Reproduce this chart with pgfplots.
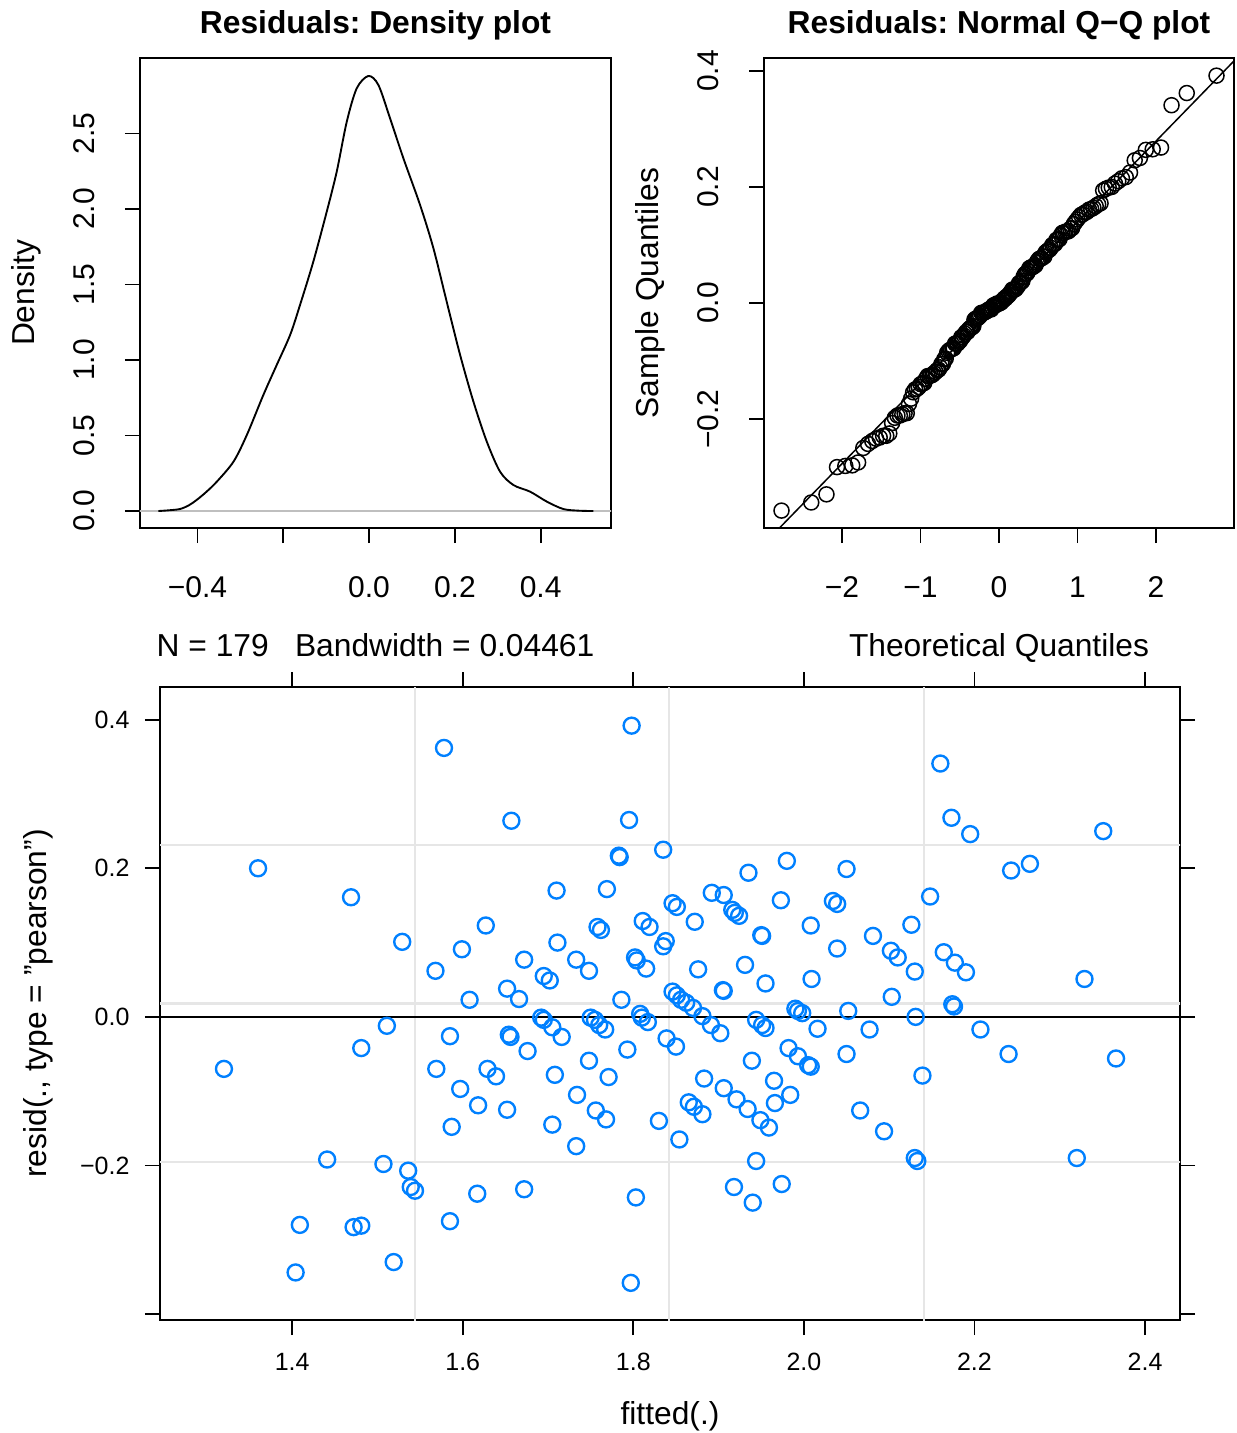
\documentclass[border=0pt]{standalone}
\usepackage{fontspec}
\setmainfont{Liberation Sans}
\usepackage{pgfplots}
\usepackage{pgfplotstable}
\pgfplotsset{compat=1.18}
\definecolor{latblue}{HTML}{0080FF}
\definecolor{refgrey}{HTML}{E6E6E6}
\frenchspacing

% residuals against fitted values
\pgfplotstableread{
fit res
1.578 0.362
1.657 0.264
1.360 0.200
1.469 0.161
1.529 0.101
1.627 0.123
1.599 0.091
1.568 0.062
1.608 0.023
1.652 0.038
1.798 0.392
1.795 0.265
1.835 0.225
1.783 0.217
1.784 0.215
1.710 0.170
1.769 0.172
1.846 0.153
1.851 0.148
1.872 0.128
1.811 0.129
1.819 0.121
1.758 0.121
1.762 0.117
1.892 0.167
1.906 0.164
1.935 0.194
1.980 0.210
2.050 0.199
1.916 0.144
1.919 0.140
1.924 0.136
1.973 0.157
2.034 0.156
2.039 0.152
2.008 0.123
1.950 0.110
1.951 0.109
2.039 0.092
2.009 0.051
1.955 0.045
1.905 0.036
1.906 0.035
1.931 0.070
1.876 0.064
1.838 0.102
1.835 0.095
1.802 0.080
1.804 0.076
1.815 0.065
1.711 0.100
1.733 0.077
1.748 0.062
1.672 0.077
1.695 0.055
1.702 0.049
1.666 0.024
1.786 0.023
1.846 0.034
1.851 0.029
1.856 0.023
1.862 0.019
1.870 0.012
1.881 0.001
1.944 -0.004
1.990 0.011
1.993 0.008
1.998 0.005
2.052 0.008
1.692 -0.001
1.695 -0.004
1.705 -0.014
1.716 -0.027
1.750 -0.001
1.755 -0.004
1.760 -0.011
1.767 -0.017
1.808 0.004
1.810 -0.001
1.817 -0.007
1.891 -0.011
1.902 -0.022
1.951 -0.011
1.955 -0.015
2.016 -0.016
2.050 -0.050
1.654 -0.024
1.656 -0.027
1.676 -0.046
1.629 -0.070
1.639 -0.080
1.652 -0.125
1.708 -0.078
1.748 -0.059
1.793 -0.044
1.771 -0.081
1.734 -0.105
1.756 -0.126
1.768 -0.138
1.705 -0.145
1.733 -0.174
1.830 -0.140
1.839 -0.029
1.850 -0.040
1.854 -0.165
1.883 -0.083
1.865 -0.115
1.871 -0.121
1.881 -0.131
1.906 -0.096
1.921 -0.111
1.934 -0.124
1.949 -0.139
1.959 -0.149
1.939 -0.059
1.982 -0.042
1.993 -0.053
2.005 -0.065
2.008 -0.067
1.965 -0.086
1.966 -0.116
1.984 -0.105
1.944 -0.194
1.918 -0.229
1.940 -0.250
1.974 -0.225
1.672 -0.232
1.803 -0.243
1.797 -0.358
1.320 -0.070
1.481 -0.042
1.511 -0.012
1.585 -0.026
1.569 -0.070
1.597 -0.097
1.618 -0.119
1.587 -0.148
1.441 -0.192
1.507 -0.198
1.536 -0.207
1.539 -0.229
1.544 -0.234
1.617 -0.238
1.585 -0.275
1.409 -0.280
1.472 -0.283
1.481 -0.281
1.519 -0.330
1.404 -0.344
2.160 0.341
2.173 0.268
2.195 0.246
2.351 0.250
2.243 0.197
2.265 0.206
2.148 0.162
2.126 0.124
2.081 0.109
2.102 0.089
2.110 0.080
2.130 0.061
2.164 0.087
2.177 0.073
2.190 0.060
2.329 0.051
2.103 0.027
2.174 0.017
2.176 0.014
2.131 0.000
2.077 -0.017
2.207 -0.017
2.240 -0.050
2.366 -0.056
2.139 -0.079
2.066 -0.126
2.094 -0.154
2.130 -0.190
2.133 -0.194
2.320 -0.190
}\residtab

% normal quantiles against sorted residuals
\pgfplotstableread{
theo sample
-2.771 -0.358
-2.392 -0.344
-2.198 -0.330
-2.064 -0.283
-1.958 -0.281
-1.870 -0.280
-1.795 -0.275
-1.729 -0.250
-1.669 -0.243
-1.615 -0.238
-1.566 -0.234
-1.520 -0.232
-1.477 -0.229
-1.436 -0.229
-1.398 -0.225
-1.362 -0.207
-1.327 -0.198
-1.294 -0.194
-1.263 -0.194
-1.232 -0.192
-1.203 -0.190
-1.175 -0.190
-1.147 -0.174
-1.120 -0.165
-1.094 -0.154
-1.069 -0.149
-1.045 -0.148
-1.021 -0.145
-0.998 -0.140
-0.975 -0.139
-0.953 -0.138
-0.931 -0.131
-0.909 -0.126
-0.888 -0.126
-0.868 -0.125
-0.847 -0.124
-0.827 -0.121
-0.808 -0.119
-0.789 -0.116
-0.770 -0.115
-0.751 -0.111
-0.733 -0.105
-0.714 -0.105
-0.697 -0.097
-0.679 -0.096
-0.661 -0.086
-0.644 -0.083
-0.627 -0.081
-0.610 -0.080
-0.593 -0.079
-0.577 -0.078
-0.560 -0.070
-0.544 -0.070
-0.528 -0.070
-0.511 -0.067
-0.495 -0.065
-0.480 -0.059
-0.464 -0.059
-0.448 -0.056
-0.433 -0.053
-0.418 -0.050
-0.402 -0.050
-0.387 -0.046
-0.372 -0.044
-0.357 -0.042
-0.342 -0.042
-0.327 -0.040
-0.313 -0.029
-0.298 -0.027
-0.284 -0.027
-0.269 -0.026
-0.255 -0.024
-0.240 -0.022
-0.226 -0.017
-0.212 -0.017
-0.197 -0.017
-0.183 -0.016
-0.169 -0.015
-0.155 -0.014
-0.141 -0.012
-0.127 -0.011
-0.112 -0.011
-0.098 -0.011
-0.084 -0.007
-0.070 -0.004
-0.056 -0.004
-0.042 -0.004
-0.028 -0.001
-0.014 -0.001
0.000 -0.001
0.014 0.000
0.028 0.001
0.042 0.004
0.056 0.005
0.070 0.008
0.084 0.008
0.098 0.011
0.112 0.012
0.127 0.014
0.141 0.017
0.155 0.019
0.169 0.023
0.183 0.023
0.197 0.023
0.212 0.024
0.226 0.027
0.240 0.029
0.255 0.034
0.269 0.035
0.284 0.036
0.298 0.038
0.313 0.045
0.327 0.049
0.342 0.051
0.357 0.051
0.372 0.055
0.387 0.060
0.402 0.061
0.418 0.062
0.433 0.062
0.448 0.064
0.464 0.065
0.480 0.070
0.495 0.073
0.511 0.076
0.528 0.077
0.544 0.077
0.560 0.080
0.577 0.080
0.593 0.087
0.610 0.089
0.627 0.091
0.644 0.092
0.661 0.095
0.679 0.100
0.697 0.101
0.714 0.102
0.733 0.109
0.751 0.109
0.770 0.110
0.789 0.117
0.808 0.121
0.827 0.121
0.847 0.123
0.868 0.123
0.888 0.124
0.909 0.128
0.931 0.129
0.953 0.136
0.975 0.140
0.998 0.144
1.021 0.148
1.045 0.152
1.069 0.153
1.094 0.156
1.120 0.157
1.147 0.161
1.175 0.162
1.203 0.164
1.232 0.167
1.263 0.170
1.294 0.172
1.327 0.194
1.362 0.197
1.398 0.199
1.436 0.200
1.477 0.206
1.520 0.210
1.566 0.215
1.615 0.217
1.669 0.225
1.729 0.246
1.795 0.250
1.870 0.264
1.958 0.265
2.064 0.268
2.198 0.341
2.392 0.362
2.771 0.392
}\qqtab

% kernel density of the residuals
\pgfplotstableread{
x dens
-0.491 0.000
-0.470 0.004
-0.441 0.013
-0.420 0.038
-0.402 0.073
-0.380 0.125
-0.355 0.194
-0.316 0.327
-0.285 0.503
-0.2465 0.768
-0.2153 0.967
-0.184 1.166
-0.161 1.364
-0.130 1.651
-0.0987 1.982
-0.0754 2.247
-0.052 2.578
-0.0288 2.799
-0.0016 2.881
0.0218 2.821
0.049 2.600
0.080 2.336
0.119 2.026
0.150 1.740
0.181 1.386
0.2123 1.033
0.2433 0.724
0.2745 0.459
0.3055 0.260
0.3366 0.172
0.3755 0.128
0.4145 0.062
0.453 0.013
0.490 0.002
0.523 0.000
}\denstab

\pgfplotsset{
  every axis title shift=0pt,
  basepanel/.style={scale only axis, axis line style={line width=0.7pt},
    tick align=outside, tick pos=left, major tick length=6pt,
    tick style={black, line width=0.7pt},
    tick label style={font=\fontsize{12}{14}\selectfont, inner sep=0pt},
    xticklabel style={anchor=north, yshift=-13.4pt},
    yticklabel style={xshift=-11.8pt, rotate=90, anchor=south},
    label style={font=\fontsize{12.7}{15}\selectfont},
    title style={font=\bfseries\fontsize{12.7}{15}\selectfont, at={(0.5,1.0527)}, anchor=base},
    xlabel style={at={(axis description cs:0.5,-0.274)}, anchor=base},
    ylabel style={at={(axis description cs:-0.225,0.5)}, anchor=base}},
}

\begin{document}
\begin{tikzpicture}
\path[use as bounding box] (0,0) rectangle (494.8pt,-573.2pt);

% density panel
\begin{axis}[basepanel, at={(56pt,-23.2pt)}, anchor=north west,
  width=188.4pt, height=188pt,
  xmin=-0.534, xmax=0.564, ymin=-0.1126, ymax=3.0,
  xtick={-0.4,-0.2,0,0.2,0.4}, xticklabels={−0.4,,0.0,0.2,0.4},
  ytick={0,0.5,1,1.5,2,2.5}, yticklabels={0.0,0.5,1.0,1.5,2.0,2.5},
  title={Residuals: Density plot},
  xlabel={N = 179\hspace{0.83em}Bandwidth = 0.04461},
  ylabel={Density}]
\addplot[gray!50, line width=0.5pt] coordinates {(-0.6,0) (0.6,0)};
\addplot[black, line width=0.75pt, smooth, tension=0.5] table[x=x, y=dens] {\denstab};
\end{axis}

% normal Q-Q panel
\begin{axis}[basepanel, at={(305.6pt,-23.2pt)}, anchor=north west,
  width=188pt, height=188pt,
  xmin=-2.994, xmax=2.994, ymin=-0.388, ymax=0.4224,
  xtick={-2,-1,0,1,2}, xticklabels={−2,−1,0,1,2},
  ytick={-0.2,0,0.2,0.4}, yticklabels={−0.2,0.0,0.2,0.4},
  title={Residuals: Normal Q−Q plot},
  xlabel={Theoretical Quantiles},
  ylabel={Sample Quantiles}]
\addplot[only marks, mark=o, mark size=3.0pt, mark options={line width=0.6pt, draw=black}]
  table[x=theo, y=sample] {\qqtab};
\addplot[black, line width=0.6pt] coordinates {(-3.2,-0.444) (3.2,0.446)};
\end{axis}

% residuals vs fitted (lattice style)
\begin{axis}[scale only axis, at={(64pt,-274.8pt)}, anchor=north west,
  width=408pt, height=253.2pt,
  xmin=1.245, xmax=2.441, ymin=-0.408, ymax=0.444,
  axis line style={line width=0.7pt},
  tick align=outside, tick pos=both, xticklabel pos=left, yticklabel pos=left,
  major tick length=6pt, tick style={black, line width=0.7pt},
  xtick={1.4,1.6,1.8,2.0,2.2,2.4}, xticklabels={1.4,1.6,1.8,2.0,2.2,2.4},
  ytick={-0.4,-0.2,0,0.2,0.4}, yticklabels={,−0.2,0.0,0.2,0.4},
  tick label style={font=\fontsize{10}{12}\selectfont, inner sep=0pt},
  xticklabel style={anchor=north, yshift=-7.1pt},
  yticklabel style={anchor=east, xshift=-6pt},
  label style={font=\fontsize{12.7}{15}\selectfont},
  xlabel={fitted(.)}, ylabel={resid(., type = "pearson")},
  xlabel style={at={(axis description cs:0.5,-0.1643)}, anchor=base},
  ylabel style={at={(axis description cs:-0.1108,0.5)}, anchor=base}]
\addplot[refgrey, line width=0.9pt] coordinates {(1.544,-1) (1.544,1)};
\addplot[refgrey, line width=0.9pt] coordinates {(1.842,-1) (1.842,1)};
\addplot[refgrey, line width=0.9pt] coordinates {(2.141,-1) (2.141,1)};
\addplot[refgrey, line width=0.9pt] coordinates {(1,0.2312) (3,0.2312)};
\addplot[refgrey, line width=0.9pt] coordinates {(1,0.0179) (3,0.0179)};
\addplot[refgrey, line width=0.9pt] coordinates {(1,-0.1957) (3,-0.1957)};
\addplot[black, line width=0.7pt] coordinates {(1,0) (3,0)};
\addplot[only marks, mark=o, mark size=3.2pt, color=latblue,
  mark options={line width=0.95pt, draw=latblue}]
  table[x=fit, y=res] {\residtab};
\end{axis}
\end{tikzpicture}
\end{document}
